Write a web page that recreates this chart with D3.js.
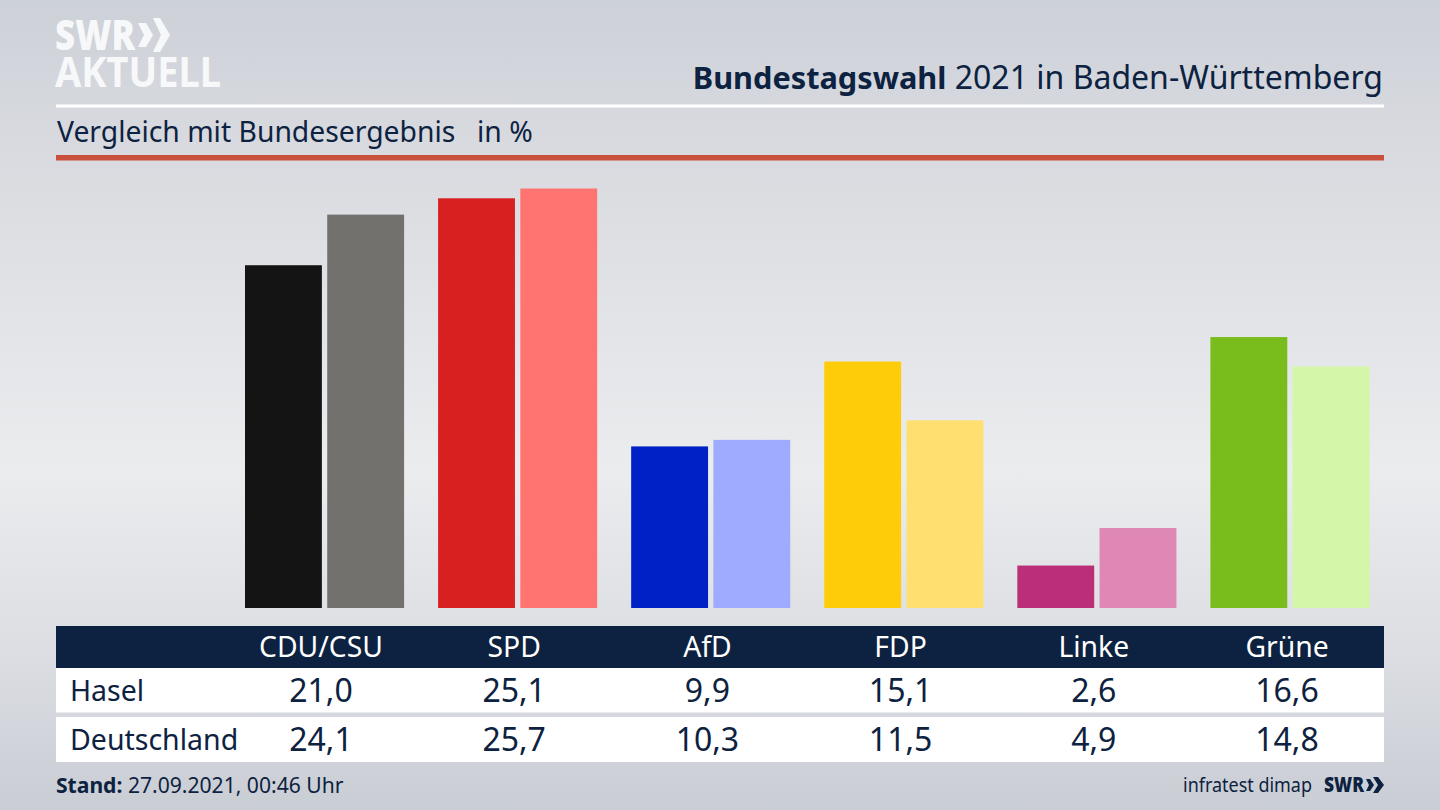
<!DOCTYPE html>
<html>
<head>
<meta charset="utf-8">
<script src="https://cdn.jsdelivr.net/npm/d3@7"></script>
<style>
  html, body { margin: 0; padding: 0; background: #d0d3d9; overflow: hidden; }
  svg { display: block; }
  text { font-family: "Noto Sans", "Open Sans", sans-serif; }
</style>
</head>
<body>
<script>
// chart values
const parties = ["CDU/CSU", "SPD", "AfD", "FDP", "Linke", "Grüne"];
const hasel = [21.0, 25.1, 9.9, 15.1, 2.6, 16.6];
const deutschland = [24.1, 25.7, 10.3, 11.5, 4.9, 14.8];
const rowNames = ["Hasel", "Deutschland"];
const haselColors = ["#141414", "#d7201f", "#0021c6", "#ffcc0a", "#ba2f78", "#79bd1c"];
const deColors = ["#72716e", "#ff7470", "#9eabff", "#ffdf70", "#df88b6", "#d4f6a8"];

const width = 1440;
const height = 810;
const navy = "#0d2240";
const fmt = d3.format(".1f");
const deNum = v => fmt(v).replace(".", ",");

const svg = d3.select("body").append("svg")
  .attr("width", width)
  .attr("height", height);

// background
const defs = svg.append("defs");
const bg = defs.append("linearGradient").attr("id", "bg")
  .attr("x1", 0).attr("y1", 0).attr("x2", 0).attr("y2", 1);
[[0, "#cdd1d8"], [0.2, "#d9dbe0"], [0.58, "#ebecee"], [0.8, "#dcdee3"], [1, "#c9cdd4"]].forEach(s => {
  bg.append("stop").attr("offset", s[0]).attr("stop-color", s[1]);
});
svg.append("rect").attr("width", width).attr("height", height).attr("fill", "url(#bg)");

// scales
const x0 = d3.scaleBand().domain(parties).range([245, 1369.5]).paddingInner(0.176);
const x1 = d3.scaleBand().domain([0, 1]).range([0, x0.bandwidth()]).paddingInner(0.065);
const y = d3.scaleLinear().domain([0, 25.7]).range([608, 188.5]);

// bars
const groups = svg.selectAll("g.party")
  .data(parties)
  .enter()
  .append("g")
  .attr("class", "party")
  .attr("transform", d => "translate(" + x0(d) + ",0)");

groups.append("rect")
  .attr("x", x1(0))
  .attr("y", (d, i) => y(hasel[i]))
  .attr("width", x1.bandwidth())
  .attr("height", (d, i) => y(0) - y(hasel[i]))
  .attr("fill", (d, i) => haselColors[i]);

groups.append("rect")
  .attr("x", x1(1))
  .attr("y", (d, i) => y(deutschland[i]))
  .attr("width", x1.bandwidth())
  .attr("height", (d, i) => y(0) - y(deutschland[i]))
  .attr("fill", (d, i) => deColors[i]);

// header
svg.append("rect").attr("x", 56).attr("y", 104.5).attr("width", 1328).attr("height", 3).attr("fill", "#fff");
svg.append("rect").attr("x", 56).attr("y", 155).attr("width", 1328).attr("height", 5.5).attr("fill", "#c9503c");

const title = svg.append("text")
  .attr("x", 1383).attr("y", 89)
  .attr("text-anchor", "end")
  .attr("fill", navy);
title.append("tspan").attr("font-weight", 700).style("font-size", "30.7px").text("Bundestagswahl");
title.append("tspan").style("font-size", "32px").text(" 2021 in Baden-Württemberg");

svg.append("text")
  .attr("x", 57).attr("y", 142)
  .attr("fill", navy)
  .style("font-size", "28.3px")
  .text("Vergleich mit Bundesergebnis");
svg.append("text")
  .attr("x", 477).attr("y", 142)
  .attr("fill", navy)
  .style("font-size", "28.3px")
  .text("in %");

// logo
const logo = svg.append("g").attr("fill", "#f7f8f9");
logo.append("text").attr("x", 55).attr("y", 50)
  .attr("fill", "#f7f8f9")
  .attr("font-weight", 900)
  .style("font-size", "42px")
  .attr("textLength", 80)
  .attr("lengthAdjust", "spacingAndGlyphs")
  .text("SWR");
logo.append("text").attr("x", 55).attr("y", 87)
  .attr("fill", "#f7f8f9")
  .attr("font-weight", 700)
  .style("font-size", "42px")
  .attr("textLength", 166)
  .attr("lengthAdjust", "spacingAndGlyphs")
  .text("AKTUELL");
logo.append("path").attr("d", "M138,23 L146,23 L153,35 L146,47 L138,47 L144,35 Z");
logo.append("path").attr("d", "M153,18 L160,18 L170,35 L160,52 L153,52 L161,35 Z");

// table
const rowY = [668, 717];
const rowH = [44.5, 45];
const textY = [701, 750];
const cols = d3.scalePoint().domain(parties).range([321, 1287]);

svg.append("rect").attr("x", 56).attr("y", 626).attr("width", 1328).attr("height", 42).attr("fill", navy);
svg.selectAll("text.head")
  .data(parties)
  .enter()
  .append("text")
  .attr("class", "head")
  .attr("x", d => cols(d))
  .attr("y", 657)
  .attr("text-anchor", "middle")
  .attr("fill", "#fff")
  .style("font-size", "28.3px")
  .text(d => d);

[hasel, deutschland].forEach((values, r) => {
  svg.append("rect").attr("x", 56).attr("y", rowY[r]).attr("width", 1328).attr("height", rowH[r]).attr("fill", "#fff");
  svg.append("text")
    .attr("x", 70).attr("y", textY[r])
    .attr("fill", navy)
    .style("font-size", "28.5px")
    .text(rowNames[r]);
  svg.selectAll("text.val" + r)
    .data(values)
    .enter()
    .append("text")
    .attr("class", "val" + r)
    .attr("x", (d, i) => cols(parties[i]))
    .attr("y", textY[r] + 1)
    .attr("text-anchor", "middle")
    .attr("fill", navy)
    .style("font-size", "32px")
    .text(d => deNum(d));
});

// footer
const stand = svg.append("text").attr("x", 56).attr("y", 793).attr("fill", navy).style("font-size", "21.1px");
stand.append("tspan").attr("font-weight", 700).text("Stand:");
stand.append("tspan").text(" 27.09.2021, 00:46 Uhr");

svg.append("text").attr("x", 1183).attr("y", 792)
  .attr("fill", navy)
  .style("font-size", "20px")
  .attr("textLength", 129)
  .attr("lengthAdjust", "spacingAndGlyphs")
  .text("infratest dimap");
svg.append("text").attr("x", 1324).attr("y", 792)
  .attr("fill", navy)
  .attr("font-weight", 900)
  .style("font-size", "21px")
  .attr("textLength", 40)
  .attr("lengthAdjust", "spacingAndGlyphs")
  .text("SWR");
svg.append("path").attr("fill", navy).attr("d", "M1366,779 L1370,779 L1374,785 L1370,791 L1366,791 L1369,785 Z");
svg.append("path").attr("fill", navy).attr("d", "M1373,777 L1378,777 L1384,785 L1378,793 L1373,793 L1378,785 Z");
</script>
</body>
</html>
